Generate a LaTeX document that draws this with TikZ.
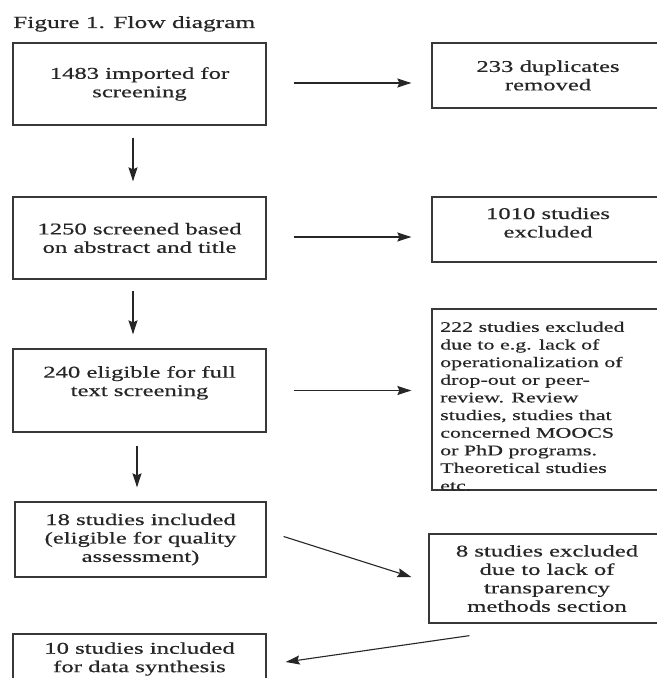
\documentclass[tikz,border=0pt]{standalone}
\usepackage{fontspec}
\setmainfont[FakeStretch=1.5,FakeBold=0.5]{Liberation Serif}
\usetikzlibrary{arrows.meta}
\begin{document}
\begin{tikzpicture}[x=1bp,y=-1bp,
  box/.style={draw=black!78, line width=1.3bp, inner sep=0pt, align=center,
    font=\fontsize{16.5}{18.5}\selectfont, text=black!85},
  rbox/.style={box, minimum width=232bp},
  lbox/.style={box, minimum width=253bp},
  arr/.style={draw=black!85, line width=1.1bp, -{Stealth[length=14bp,width=9bp,inset=2bp]}}]
\useasboundingbox (0,0) rectangle (657,678);
\fill[white] (0,0) rectangle (657,678);
\node[anchor=base west, font=\fontsize{17}{20}\selectfont, inner sep=0pt, text=black!85] (title) at (13,28) {Figure 1. Flow diagram};
% left column
\node[lbox, minimum height=82bp] (b1) at (139.5,84) {1483 imported for\\screening};
\node[lbox, minimum height=82bp] (b2) at (139.5,238) {1250 screened based\\on abstract and title};
\node[lbox, minimum height=83bp] (b3) at (139.5,390.5) {240 eligible for full\\text screening\\[0.5bp]\mbox{}};
\node[box, minimum width=251bp, minimum height=75bp] (b4) at (140.5,539.5) {18 studies included\\(eligible for quality\\assessment)};
\node[lbox, minimum height=50bp] (b5) at (139.5,659) {10 studies included\\for data synthesis};
% right column
\node[rbox, minimum height=65bp] (r1) at (548,75.5) {233 duplicates\\removed};
\node[rbox, minimum height=65bp] (r2) at (548,229.5) {1010 studies\\excluded\\[-4.5bp]\mbox{}};
\node[rbox, minimum height=181bp] (r3) at (548,399.5) {};
\node[anchor=north west, inner sep=0pt, align=left, text=black!85,
  font=\fontsize{14.7}{17.7}\selectfont] (r3t) at (440,321.5)
  {222 studies excluded\\due to e.g. lack of\\operationalization of\\drop-out or peer-\\review. Review\\studies, studies that\\concerned MOOCS\\or PhD programs.\\Theoretical studies\\etc.};
\node[box, minimum width=236bp, minimum height=89bp] (r4) at (547,578.5) {8 studies excluded\\due to lack of\\transparency\\methods section};
% connectors
\draw[arr, shorten <=12bp, shorten >=15bp] ([xshift=-6.5bp]b1.south) -- ([xshift=-6.5bp]b1.south |- b2.north);
\draw[arr, shorten <=11bp, shorten >=14bp] ([xshift=-6.5bp]b2.south) -- ([xshift=-6.5bp]b2.south |- b3.north);
\draw[arr, shorten <=13bp, shorten >=14bp] ([xshift=-2.5bp]b3.south) -- ([xshift=-2.5bp]b3.south |- b4.north);
\draw[arr, shorten <=27bp, shorten >=20bp] ([yshift=1bp]b1.east) -- ([yshift=1bp]b1.east -| r1.west);
\draw[arr, shorten <=27bp, shorten >=20bp] ([yshift=1bp]b2.east) -- ([yshift=1bp]b2.east -| r2.west);
\draw[arr, shorten <=27bp, shorten >=20bp] (b3.east) -- (b3.east -| r3.west);
\draw[arr] ([shift={(17,-3)}]b4.east) -- ([shift={(-17,-1.5)}]r4.west);
\draw[arr] ([shift={(41,12)}]r4.south west) -- ([shift={(19,3)}]b5.east);
\end{tikzpicture}
\end{document}
